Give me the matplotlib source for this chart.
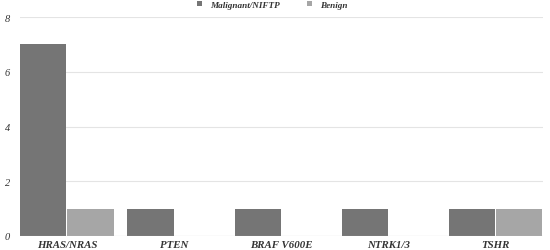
import matplotlib
matplotlib.use('Agg')
import matplotlib.pyplot as plt
import numpy as np

categories = ['HRAS/NRAS', 'PTEN', 'BRAF V600E', 'NTRK1/3', 'TSHR']
malignant = [7, 1, 1, 1, 1]
benign = [1, 0, 0, 0, 1]
yticks = [0, 2, 4, 6, 8]

plt.rcParams['font.family'] = ['Liberation Serif', 'DejaVu Serif']

fig = plt.figure(figsize=(5.5, 2.51), dpi=100)
ax = fig.add_axes([0.036, 0.056, 0.951, 0.872])

x = np.arange(len(categories))
w = 0.44
b1 = ax.bar(x - w / 2, malignant, width=w * 0.98, color='#757575', label='Malignant/NIFTP', zorder=3)
b2 = ax.bar(x + w / 2, benign, width=w * 0.98, color='#a6a6a6', label='Benign', zorder=3)

ax.set_xlim(-0.44, len(categories) - 1 + 0.44)
ax.set_ylim(0, 8)
ax.set_yticks(yticks)
ax.set_xticks(x)
ax.set_xticklabels(categories, fontstyle='italic', fontweight='bold', fontsize=7.8, color='#333333')
ax.set_yticklabels([str(t) for t in yticks], fontstyle='italic', fontsize=7.5, color='#333333')
ax.tick_params(axis='x', length=0, pad=3)
ax.tick_params(axis='y', length=0, pad=7)
ax.grid(axis='y', color='#e4e4e4', linewidth=0.8, zorder=0)
for s in ax.spines.values():
    s.set_visible(False)
ax.axhline(0, color='#d0d0d0', linewidth=0.8, zorder=4)

leg = fig.legend(handles=[b1, b2], loc='upper center', bbox_to_anchor=(0.495, 1.025), ncol=2,
                 frameon=False, handlelength=0.5, handleheight=0.5, columnspacing=3.0, handletextpad=0.9,
                 prop={'style': 'italic', 'weight': 'bold', 'size': 6.6})
for t in leg.get_texts():
    t.set_color('#333333')

fig.savefig('out.png', dpi=100)
